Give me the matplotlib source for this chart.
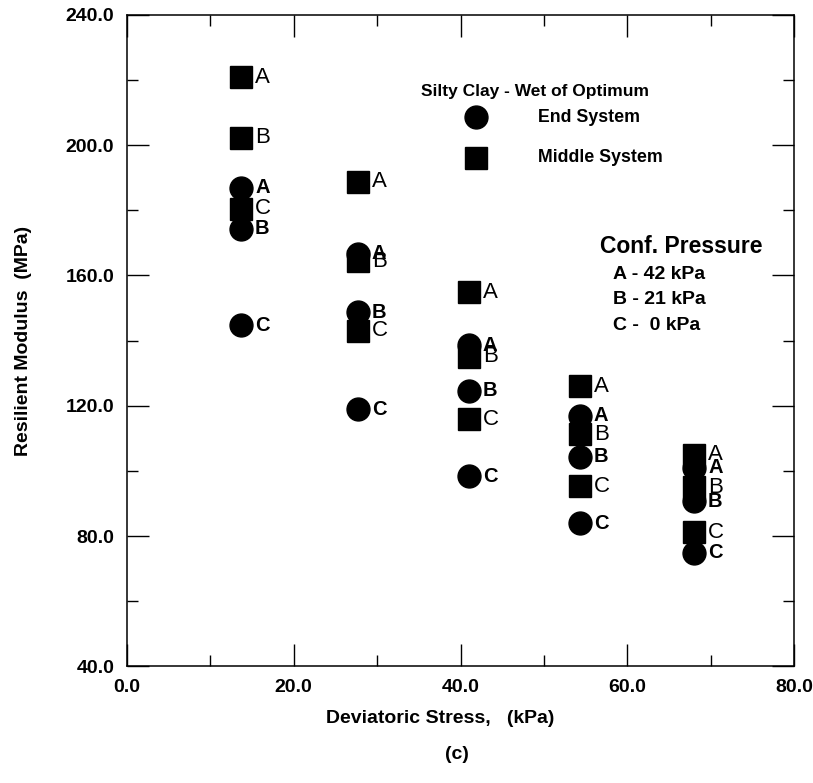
import matplotlib
matplotlib.use("Agg")
from matplotlib import pyplot as plt
from matplotlib.ticker import MultipleLocator, FormatStrFormatter

plt.rcParams["font.family"] = ["Liberation Sans", "DejaVu Sans"]

# deviatoric stress for each load step (kPa)
stress = [13.7, 27.7, 41.0, 54.3, 68.0]
pressure_labels = ["A", "B", "C"]

# resilient modulus (MPa) per confining pressure A, B, C
end_A = [187.0, 166.7, 138.5, 117.0, 101.0]
end_B = [174.4, 148.7, 124.6, 104.4, 90.7]
end_C = [144.7, 118.9, 98.3, 84.0, 74.8]

mid_A = [220.8, 188.8, 154.9, 126.0, 105.0]
mid_B = [202.3, 164.3, 135.0, 111.3, 95.0]
mid_C = [180.5, 143.1, 115.9, 95.3, 81.2]

end_series = [end_A, end_B, end_C]
mid_series = [mid_A, mid_B, mid_C]

fig = plt.figure(figsize=(8.13, 7.83), dpi=100)
ax = fig.add_axes([0.156, 0.149, 0.821, 0.832])

for lab, vals in zip(pressure_labels, mid_series):
    ax.plot(stress, vals, "s", color="black", ms=15.5, ls="none")
    for x, y in zip(stress, vals):
        ax.annotate(lab, (x, y), xytext=(10, 0), textcoords="offset points",
                    ha="left", va="center", fontsize=16)

for lab, vals in zip(pressure_labels, end_series):
    ax.plot(stress, vals, "o", color="black", ms=16.5, ls="none")
    for x, y in zip(stress, vals):
        ax.annotate(lab, (x, y), xytext=(10, 0), textcoords="offset points",
                    ha="left", va="center", fontsize=14.5, fontweight="bold")

ax.set_xlim(0, 80)
ax.set_ylim(40, 240)
ax.xaxis.set_major_locator(MultipleLocator(20))
ax.xaxis.set_minor_locator(MultipleLocator(10))
ax.yaxis.set_major_locator(MultipleLocator(40))
ax.yaxis.set_minor_locator(MultipleLocator(20))
ax.xaxis.set_major_formatter(FormatStrFormatter("%.1f"))
ax.yaxis.set_major_formatter(FormatStrFormatter("%.1f"))
ax.tick_params(which="both", direction="in", top=True, right=True, width=1.0)
ax.tick_params(which="major", length=16, labelsize=14, pad=9)
ax.tick_params(which="minor", length=8)
for lbl in ax.get_xticklabels() + ax.get_yticklabels():
    lbl.set_fontweight("bold")
for sp in ax.spines.values():
    sp.set_linewidth(1.1)

ax.set_xlabel("Deviatoric Stress,   (kPa)", fontsize=14, fontweight="bold")
ax.xaxis.set_label_coords(0.47, -0.067)
ax.set_ylabel("Resilient Modulus  (MPa)", fontsize=14, fontweight="bold", labelpad=24)
fig.text(0.562, 0.025, "(c)", ha="center", va="bottom", fontsize=14, fontweight="bold")

# legend drawn as text and markers in axes coordinates
ax.text(0.44, 0.882, "Silty Clay - Wet of Optimum", transform=ax.transAxes,
        fontsize=12.5, fontweight="bold", ha="left", va="center")
ax.plot([0.523], [0.843], "o", color="black", ms=16.5, transform=ax.transAxes, clip_on=False)
ax.plot([0.523], [0.781], "s", color="black", ms=15.5, transform=ax.transAxes, clip_on=False)
ax.text(0.616, 0.843, "End System", transform=ax.transAxes,
        fontsize=12.8, fontweight="bold", ha="left", va="center")
ax.text(0.616, 0.781, "Middle System", transform=ax.transAxes,
        fontsize=12.8, fontweight="bold", ha="left", va="center")
ax.text(0.709, 0.644, "Conf. Pressure", transform=ax.transAxes,
        fontsize=16.5, fontweight="bold", ha="left", va="center")
ax.text(0.728, 0.602, "A - 42 kPa", transform=ax.transAxes,
        fontsize=14, fontweight="bold", ha="left", va="center")
ax.text(0.728, 0.563, "B - 21 kPa", transform=ax.transAxes,
        fontsize=14, fontweight="bold", ha="left", va="center")
ax.text(0.728, 0.523, "C -  0 kPa", transform=ax.transAxes,
        fontsize=14, fontweight="bold", ha="left", va="center")

fig.savefig("out.png", dpi=100)
